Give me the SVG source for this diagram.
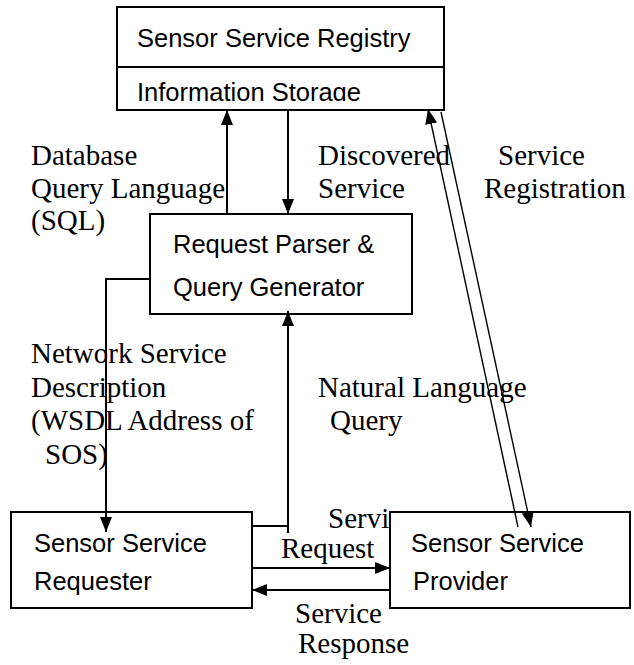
<svg xmlns="http://www.w3.org/2000/svg" width="634" height="665" viewBox="0 0 634 665">
  <style>
    .box { fill: #ffffff; stroke: #000000; stroke-width: 2; }
    .sans { font-family: "Liberation Sans", Arial, sans-serif; font-size: 25.5px; fill: #000000; }
    .serif { font-family: "Liberation Serif", "Times New Roman", serif; font-size: 29px; fill: #000000; }
    .conn { fill: none; stroke: #000000; stroke-width: 2; }
    .thin { fill: none; stroke: #000000; stroke-width: 1.4; }
  </style>
  <defs>
    <marker id="arrow" viewBox="0 0 15 12" refX="15" refY="6" markerWidth="15" markerHeight="12" markerUnits="userSpaceOnUse" orient="auto">
      <path d="M0,0 L15,6 L0,12 Z" fill="#000000"/>
    </marker>
    <clipPath id="storageClip">
      <rect x="117" y="67" width="327" height="34"/>
    </clipPath>
  </defs>

  <rect width="634" height="665" fill="#ffffff"/>

  <!-- edge labels -->
  <g id="labels">
    <text class="serif" x="31" y="165">Database</text>
    <text class="serif" x="31" y="198">Query Language</text>
    <text class="serif" x="31" y="230">(SQL)</text>
    <text class="serif" x="318" y="165">Discovered</text>
    <text class="serif" x="318" y="198">Service</text>
    <text class="serif" x="498" y="165">Service</text>
    <text class="serif" x="484" y="198">Registration</text>
    <text class="serif" x="31" y="363">Network Service</text>
    <text class="serif" x="31" y="397">Description</text>
    <text class="serif" x="31" y="430">(WSDL Address of</text>
    <text class="serif" x="45" y="464">SOS)</text>
    <text class="serif" x="318" y="397">Natural Language</text>
    <text class="serif" x="330" y="430">Query</text>
    <text class="serif" x="328" y="528">Service</text>
    <text class="serif" x="281" y="558">Request</text>
    <text class="serif" x="295" y="623">Service</text>
    <text class="serif" x="298" y="653">Response</text>
  </g>

  <!-- nodes -->
  <g id="registry">
    <rect class="box" x="117" y="7" width="327" height="103"/>
    <line class="conn" x1="117" y1="67" x2="444" y2="67"/>
    <text class="sans" x="137" y="47">Sensor Service Registry</text>
    <text class="sans" x="137" y="101" clip-path="url(#storageClip)">Information Storage</text>
  </g>

  <g id="parser">
    <rect class="box" x="150" y="214" width="262" height="100"/>
    <text class="sans" x="173" y="253">Request Parser &amp;</text>
    <text class="sans" x="173" y="296">Query Generator</text>
  </g>

  <g id="requester">
    <rect class="box" x="11" y="512" width="241" height="96"/>
    <text class="sans" x="34" y="552">Sensor Service</text>
    <text class="sans" x="34" y="590">Requester</text>
  </g>

  <g id="provider">
    <rect class="box" x="390" y="512" width="240" height="96"/>
    <text class="sans" x="411" y="552">Sensor Service</text>
    <text class="sans" x="413" y="590">Provider</text>
  </g>

  <!-- connectors -->
  <g id="connectors">
    <line class="conn" x1="227" y1="214" x2="227" y2="110" marker-end="url(#arrow)"/>
    <line class="conn" x1="288" y1="110" x2="288" y2="214" marker-end="url(#arrow)"/>
    <polyline class="conn" points="150,279 106,279 106,532" marker-end="url(#arrow)"/>
    <line class="conn" x1="252" y1="526" x2="288" y2="526"/>
    <line class="conn" x1="288" y1="533" x2="288" y2="311" marker-end="url(#arrow)"/>
    <line class="conn" x1="252" y1="568" x2="390" y2="568" marker-end="url(#arrow)"/>
    <line class="conn" x1="390" y1="590" x2="252" y2="590" marker-end="url(#arrow)"/>
    <line class="thin" x1="518" y1="527" x2="428" y2="109" marker-end="url(#arrow)"/>
    <line class="thin" x1="441" y1="112" x2="531" y2="527" marker-end="url(#arrow)"/>
  </g>
</svg>
